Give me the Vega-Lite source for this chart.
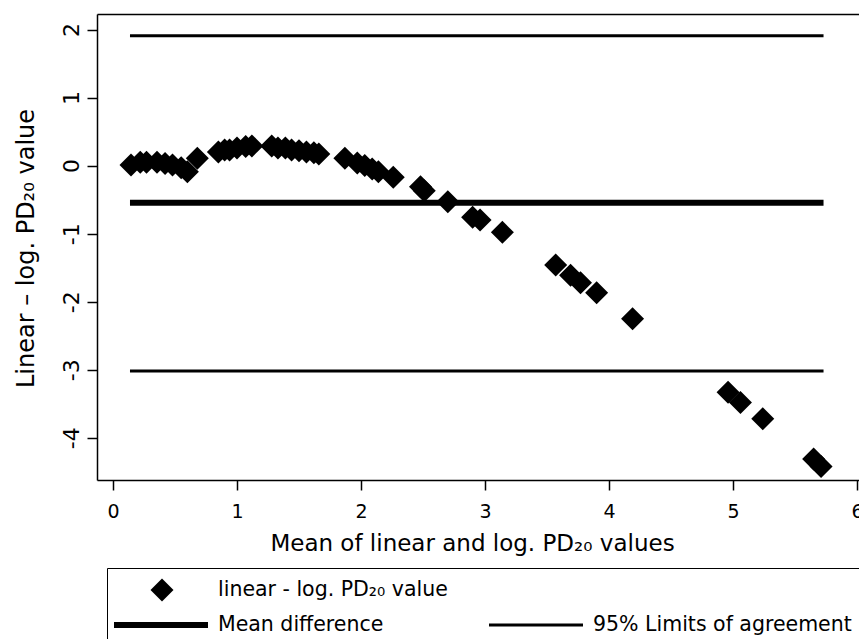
{
  "$schema": "https://vega.github.io/schema/vega-lite/v6.json",
  "width": 762,
  "height": 466,
  "autosize": {"type": "none"},
  "padding": {"left": 97, "top": 14, "right": 0, "bottom": 159},
  "background": "white",
  "view": {"stroke": null},
  "config": {"font": "DejaVu Sans"},
  "datasets": {
    "points": [
      {"m": 0.145, "d": 0.01, "series": "linear - log. PD₂₀ value"},
      {"m": 0.22, "d": 0.05, "series": "linear - log. PD₂₀ value"},
      {"m": 0.27, "d": 0.05, "series": "linear - log. PD₂₀ value"},
      {"m": 0.355, "d": 0.05, "series": "linear - log. PD₂₀ value"},
      {"m": 0.42, "d": 0.03, "series": "linear - log. PD₂₀ value"},
      {"m": 0.48, "d": 0.01, "series": "linear - log. PD₂₀ value"},
      {"m": 0.55, "d": -0.03, "series": "linear - log. PD₂₀ value"},
      {"m": 0.6, "d": -0.09, "series": "linear - log. PD₂₀ value"},
      {"m": 0.68, "d": 0.11, "series": "linear - log. PD₂₀ value"},
      {"m": 0.85, "d": 0.2, "series": "linear - log. PD₂₀ value"},
      {"m": 0.9, "d": 0.23, "series": "linear - log. PD₂₀ value"},
      {"m": 0.94, "d": 0.23, "series": "linear - log. PD₂₀ value"},
      {"m": 1.0, "d": 0.26, "series": "linear - log. PD₂₀ value"},
      {"m": 1.07, "d": 0.28, "series": "linear - log. PD₂₀ value"},
      {"m": 1.12, "d": 0.29, "series": "linear - log. PD₂₀ value"},
      {"m": 1.28, "d": 0.29, "series": "linear - log. PD₂₀ value"},
      {"m": 1.33, "d": 0.26, "series": "linear - log. PD₂₀ value"},
      {"m": 1.39, "d": 0.26, "series": "linear - log. PD₂₀ value"},
      {"m": 1.44, "d": 0.23, "series": "linear - log. PD₂₀ value"},
      {"m": 1.5, "d": 0.22, "series": "linear - log. PD₂₀ value"},
      {"m": 1.56, "d": 0.2, "series": "linear - log. PD₂₀ value"},
      {"m": 1.62, "d": 0.19, "series": "linear - log. PD₂₀ value"},
      {"m": 1.66, "d": 0.17, "series": "linear - log. PD₂₀ value"},
      {"m": 1.87, "d": 0.11, "series": "linear - log. PD₂₀ value"},
      {"m": 1.97, "d": 0.04, "series": "linear - log. PD₂₀ value"},
      {"m": 2.03, "d": 0.0, "series": "linear - log. PD₂₀ value"},
      {"m": 2.09, "d": -0.05, "series": "linear - log. PD₂₀ value"},
      {"m": 2.14, "d": -0.09, "series": "linear - log. PD₂₀ value"},
      {"m": 2.26, "d": -0.17, "series": "linear - log. PD₂₀ value"},
      {"m": 2.48, "d": -0.31, "series": "linear - log. PD₂₀ value"},
      {"m": 2.51, "d": -0.37, "series": "linear - log. PD₂₀ value"},
      {"m": 2.7, "d": -0.53, "series": "linear - log. PD₂₀ value"},
      {"m": 2.9, "d": -0.76, "series": "linear - log. PD₂₀ value"},
      {"m": 2.96, "d": -0.8, "series": "linear - log. PD₂₀ value"},
      {"m": 3.14, "d": -0.98, "series": "linear - log. PD₂₀ value"},
      {"m": 3.57, "d": -1.46, "series": "linear - log. PD₂₀ value"},
      {"m": 3.69, "d": -1.61, "series": "linear - log. PD₂₀ value"},
      {"m": 3.77, "d": -1.72, "series": "linear - log. PD₂₀ value"},
      {"m": 3.9, "d": -1.87, "series": "linear - log. PD₂₀ value"},
      {"m": 4.19, "d": -2.25, "series": "linear - log. PD₂₀ value"},
      {"m": 4.96, "d": -3.33, "series": "linear - log. PD₂₀ value"},
      {"m": 5.06, "d": -3.48, "series": "linear - log. PD₂₀ value"},
      {"m": 5.24, "d": -3.72, "series": "linear - log. PD₂₀ value"},
      {"m": 5.65, "d": -4.31, "series": "linear - log. PD₂₀ value"},
      {"m": 5.71, "d": -4.42, "series": "linear - log. PD₂₀ value"}
    ],
    "lines": [
      {"m": 0.137, "m2": 5.73, "d": 1.91, "series": "95% Limits of agreement"},
      {"m": 0.137, "m2": 5.73, "d": -0.545, "series": "Mean difference"},
      {"m": 0.137, "m2": 5.73, "d": -3.02, "series": "95% Limits of agreement"}
    ]
  },
  "encoding": {
    "y": {
      "field": "d",
      "type": "quantitative",
      "scale": {"domain": [-4.62, 2.228], "nice": false, "zero": false},
      "axis": {
        "values": [-4, -3, -2, -1, 0, 1, 2],
        "labelExpr": "'' + datum.value",
        "grid": false,
        "tickSize": 10,
        "tickColor": "black",
        "tickWidth": 1.5,
        "domainColor": "black",
        "domainWidth": 1.5,
        "labelAngle": -90,
        "labelAlign": "center",
        "labelBaseline": "alphabetic",
        "labelPadding": 9,
        "labelFont": "DejaVu Sans",
        "labelFontSize": 22,
        "labelColor": "black",
        "labelFlush": false,
        "labelOverlap": false,
        "title": "Linear – log. PD₂₀ value",
        "titleFont": "DejaVu Sans",
        "titleFontSize": 24,
        "titleFontWeight": "normal",
        "titleColor": "black",
        "titleAngle": -90,
        "titleX": -64,
        "titleY": 234,
        "titleAlign": "center",
        "titleBaseline": "alphabetic"
      }
    }
  },
  "layer": [
    {
      "data": {"name": "lines"},
      "mark": {"type": "rule", "color": "black"},
      "encoding": {
        "x": {
          "field": "m",
          "type": "quantitative",
          "scale": {"domain": [-0.129, 6.016], "nice": false, "zero": false},
          "axis": {"orient": "top", "labels": false, "ticks": false, "title": null, "grid": false, "domain": true, "domainColor": "black", "domainWidth": 1.5}
        },
        "x2": {"field": "m2"},
        "strokeWidth": {
          "field": "series",
          "type": "ordinal",
          "scale": {"type": "ordinal", "domain": ["Mean difference", "95% Limits of agreement"], "range": [6, 3]},
          "legend": {
            "title": null,
            "orient": "none",
            "legendX": 10,
            "legendY": 554,
            "direction": "horizontal",
            "columns": 2,
            "padding": 7,
            "strokeColor": "black",
            "symbolType": "stroke",
            "symbolSize": 8836,
            "symbolStrokeColor": "black",
            "symbolOffset": -3,
            "labelOffset": 7,
            "labelFont": "DejaVu Sans",
            "labelFontSize": 20.5,
            "labelColor": "black",
            "labelLimit": 0,
            "columnPadding": 99
          }
        }
      }
    },
    {
      "data": {"name": "points"},
      "mark": {"type": "point", "shape": "diamond", "filled": true, "size": 529, "opacity": 1, "strokeWidth": 0, "color": "black"},
      "encoding": {
        "x": {
          "field": "m",
          "type": "quantitative",
          "scale": {"domain": [-0.129, 6.016], "nice": false, "zero": false},
          "axis": {
            "orient": "bottom",
            "values": [0, 1, 2, 3, 4, 5, 6],
            "grid": false,
            "tickSize": 10,
            "tickColor": "black",
            "tickWidth": 1.5,
            "domainColor": "black",
            "domainWidth": 1.5,
            "labelPadding": 12,
            "labelFont": "DejaVu Sans",
            "labelFontSize": 19,
            "labelColor": "black",
            "labelFlush": false,
            "labelOverlap": false,
            "title": "Mean of linear and log. PD₂₀ values",
            "titleFont": "DejaVu Sans",
            "titleFontSize": 23,
            "titleFontWeight": "normal",
            "titleColor": "black",
            "titleX": 375,
            "titleY": 70,
            "titleAlign": "center",
            "titleBaseline": "alphabetic"
          }
        },
        "shape": {
          "field": "series",
          "type": "nominal",
          "scale": {"domain": ["linear - log. PD₂₀ value"], "range": ["diamond"]},
          "legend": {
            "title": null,
            "orient": "none",
            "legendX": 53.5,
            "legendY": 564.5,
            "padding": 0,
            "symbolSize": 529,
            "symbolFillColor": "black",
            "symbolStrokeWidth": 0,
            "symbolOffset": 0,
            "labelOffset": 44.5,
            "labelFont": "DejaVu Sans",
            "labelFontSize": 20.5,
            "labelColor": "black",
            "labelLimit": 0
          }
        }
      }
    }
  ],
  "resolve": {"axis": {"x": "independent"}}
}
